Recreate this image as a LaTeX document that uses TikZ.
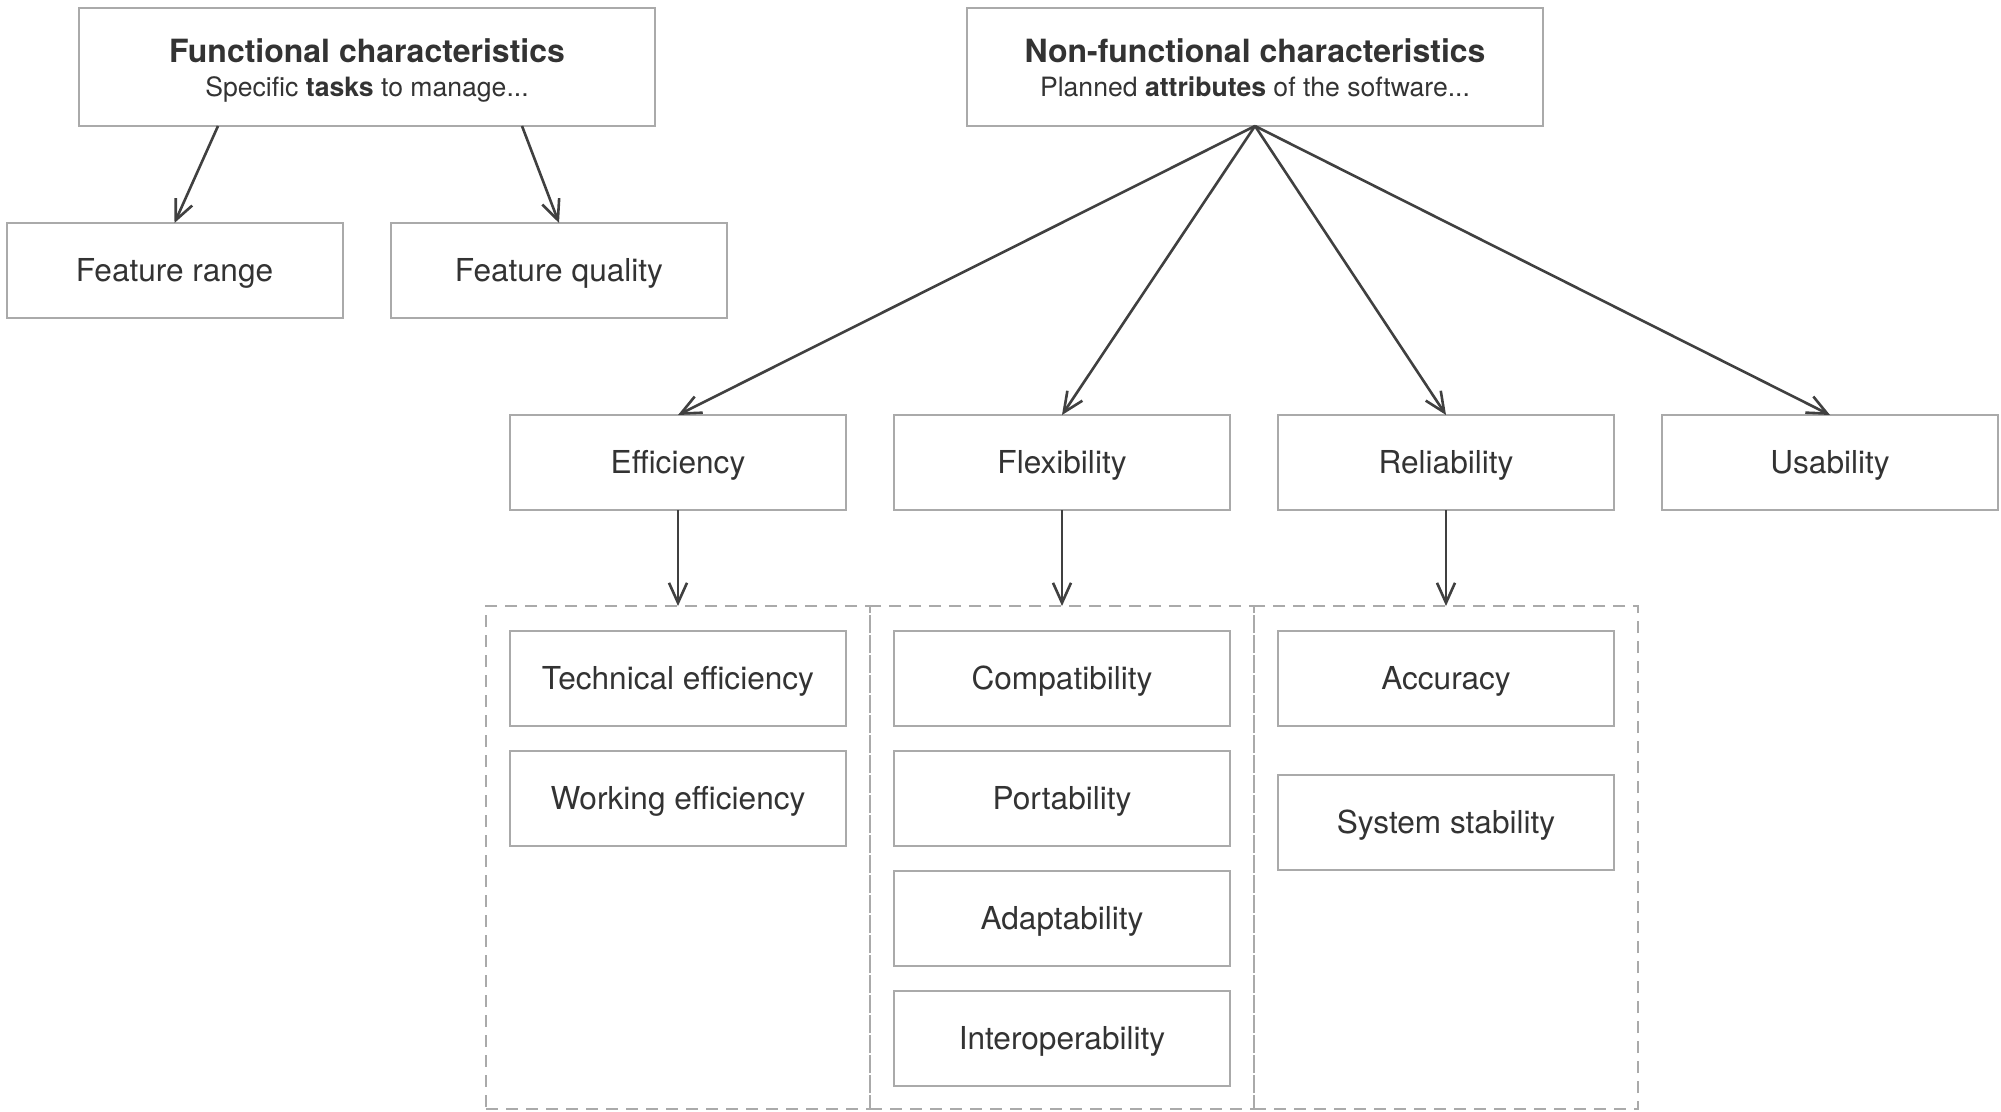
\documentclass[tikz,border=0pt]{standalone}
\usepackage{fontspec}
\setmainfont{TeX Gyre Heros}
\usetikzlibrary{arrows.meta}
\definecolor{txt}{HTML}{333333}
\definecolor{bord}{HTML}{AAAAAA}
\definecolor{arr}{HTML}{404040}
\tikzset{
  box/.style={draw=bord, line width=1pt, rectangle, inner sep=0pt, outer sep=0pt,
    minimum width=168pt, minimum height=47.5pt, text=txt,
    text height=11pt, text depth=0pt,
    font=\fontsize{15.8}{19}\selectfont},
  headbox/.style={draw=bord, line width=1pt, rectangle, inner sep=0pt, outer sep=0pt,
    minimum width=288pt, minimum height=59pt, text=txt, align=center,
    font=\fontsize{13.3}{17}\selectfont},
  groupbox/.style={draw=bord, line width=1pt, dash pattern=on 6pt off 4pt, rectangle,
    inner sep=0pt, outer sep=0pt, minimum width=192pt, minimum height=251.5pt},
  conn/.style={draw=arr, line width=1.3pt, -{Straight Barb[length=10pt,width=9pt]}}
}
\newcommand{\headtitle}[1]{\rule{0pt}{15.8pt}{\bfseries\fontsize{16}{17}\selectfont #1}}
\newcommand{\headsub}[1]{\rule[-3pt]{0pt}{3pt}#1}
\begin{document}
\begin{tikzpicture}[x=0.5pt,y=-0.5pt]
\useasboundingbox[fill=white] (0,0) rectangle (2001,1112);
% dashed groups
\node[groupbox] (ed) at (678,857.5) {};
\node[groupbox] (fd) at (1062,857.5) {};
\node[groupbox] (rd) at (1446,857.5) {};
% heads
\node[headbox] (func) at (367,67) {\headtitle{Functional characteristics}\\\headsub{Specific \textbf{tasks} to manage...}};
\node[headbox] (nonf) at (1255,67) {\headtitle{Non-functional characteristics}\\\headsub{Planned \textbf{attributes} of the software...}};
% functional children
\node[box] (frange) at (174.5,270.5) {Feature range};
\node[box] (fqual) at (559,270.5) {Feature quality};
% non-functional children
\node[box] (eff) at (678,462.5) {Efficiency};
\node[box] (flex) at (1062,462.5) {Flexibility};
\node[box] (rel) at (1446,462.5) {Reliability};
\node[box] (usa) at (1830,462.5) {Usability};
% inner boxes
\node[box] (tech) at (678,678) {Technical efficiency};
\node[box] (work) at (678,798) {Working efficiency};
\node[box] (comp) at (1062,678) {Compatibility};
\node[box] (port) at (1062,798) {Portability};
\node[box] (adap) at (1062,918) {Adaptability};
\node[box] (inter) at (1062,1038) {Interoperability};
\node[box] (acc) at (1446,678) {Accuracy};
\node[box] (stab) at (1446,822.5) {System stability};
% connectors
\draw[conn] ([xshift=-74.5pt]func.south) -- (frange.north);
\draw[conn] ([xshift=77.5pt]func.south) -- (fqual.north);
\draw[conn] (nonf.south) -- (eff.north);
\draw[conn] (nonf.south) -- (flex.north);
\draw[conn] (nonf.south) -- (rel.north);
\draw[conn] (nonf.south) -- (usa.north);
\draw[conn] (eff.south) -- (ed.north);
\draw[conn] (flex.south) -- (fd.north);
\draw[conn] (rel.south) -- (rd.north);
\end{tikzpicture}
\end{document}
